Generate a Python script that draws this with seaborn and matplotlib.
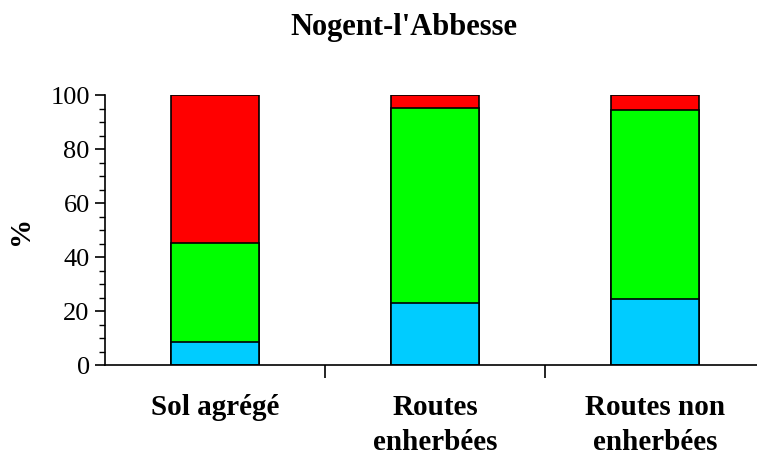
import numpy as np
import pandas as pd
import matplotlib
matplotlib.use("Agg")
import matplotlib.pyplot as plt
import seaborn as sns
from matplotlib.ticker import MultipleLocator, FixedLocator

categories = ["Sol agrégé", "Routes\nenherbées", "Routes non\nenherbées"]
blue_vals = [8.7, 23.0, 24.6]
green_vals = [36.7, 72.1, 69.8]
red_vals = [54.6, 4.9, 5.6]

sns.set_theme(style="white")
plt.rcParams['font.family'] = ['Liberation Serif', 'DejaVu Serif']
plt.rcParams['text.color'] = 'black'
plt.rcParams['axes.labelcolor'] = 'black'
plt.rcParams['xtick.color'] = 'black'
plt.rcParams['ytick.color'] = 'black'

fig = plt.figure(figsize=(7.57, 4.57), dpi=100)
ax = fig.add_axes([105/757, 91.7/457, 660/757, 270.3/457])

cum_blue = np.array(blue_vals)
cum_green = cum_blue + np.array(green_vals)
cum_red = cum_green + np.array(red_vals)

df = pd.DataFrame({"cat": categories, "blue": cum_blue, "green": cum_green, "red": cum_red})
for col, color in [("red", "#FF0000"), ("green", "#00FF00"), ("blue", "#00CCFF")]:
    sns.barplot(data=df, x="cat", y=col, color=color, width=0.4, edgecolor="black",
                linewidth=1.2, saturation=1, ax=ax)

ax.set_xlim(-0.5, 2.5)
ax.set_ylim(0, 100)
for s in ["top", "right"]:
    ax.spines[s].set_visible(False)
for s in ["left", "bottom"]:
    ax.spines[s].set_color("black")
    ax.spines[s].set_linewidth(1.2)

ax.yaxis.set_major_locator(MultipleLocator(20))
ax.yaxis.set_minor_locator(MultipleLocator(5))
ax.tick_params(axis="y", which="major", direction="out", length=7, width=1.2, color="black",
               labelsize=19, labelcolor="black", left=True, pad=4)
ax.tick_params(axis="y", which="minor", direction="out", length=4, width=1.0, color="black", left=True)
ax.xaxis.set_minor_locator(FixedLocator([0.5, 1.5]))
ax.tick_params(axis="x", which="major", length=0, labelsize=21, labelcolor="black", pad=21)
ax.tick_params(axis="x", which="minor", direction="out", length=9, width=1.2, color="black", bottom=True)
for lbl in ax.get_xticklabels():
    lbl.set_fontweight("bold")
    lbl.set_linespacing(1.34)
ax.set_xlabel("")
ax.set_ylabel("%", fontsize=21, fontweight="bold", color="black")
ax.yaxis.set_label_coords(-0.108, 0.5)

fig.text(404/757, 1 - 27/457, "Nogent-l'Abbesse", ha="center", va="center",
         fontsize=22, fontweight="bold", color="black")

fig.savefig("out.png", dpi=100)
